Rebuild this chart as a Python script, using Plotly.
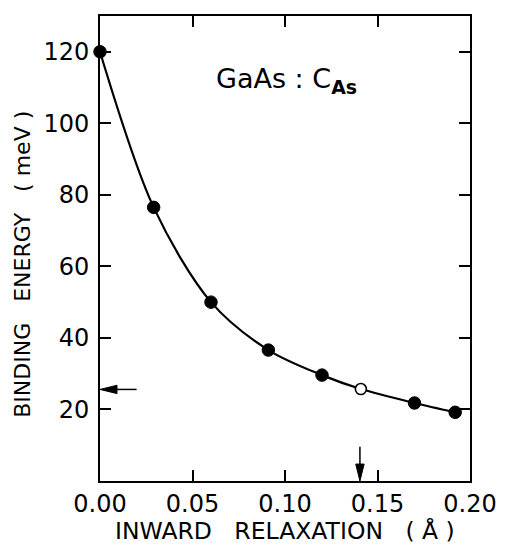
import plotly.graph_objects as go

# Data
relax_filled = [0.0, 0.029, 0.060, 0.091, 0.120, 0.170, 0.192]
energy_filled = [120.0, 76.5, 50.0, 36.6, 29.6, 21.8, 19.2]
relax_open = [0.141]
energy_open = [25.7]

# Curve passes through all points (sorted by x)
curve_x = [0.0, 0.029, 0.060, 0.091, 0.120, 0.141, 0.170, 0.192]
curve_y = [120.0, 76.5, 50.0, 36.6, 29.6, 25.7, 21.8, 19.2]

x_ticks = [0.0, 0.05, 0.10, 0.15, 0.20]
x_ticktext = ["0.00", "0.05", "0.10", "0.15", "0.20"]
y_ticks = [20, 40, 60, 80, 100, 120]

X_RANGE = [0, 0.2]
Y_RANGE = [0, 130]

# Arrow markers (tail -> tip)
h_arrow = dict(x0=0.0198, x1=0.0, y=25.6)
v_arrow = dict(x=0.1405, y0=9.6, y1=0.0)

FONT = "DejaVu Sans"

# Figure geometry (page body has an 8px default margin)
W, H = 503, 539
M = dict(l=92, r=41, t=6, b=66)
plot_w = W - M["l"] - M["r"]
plot_h = H - M["t"] - M["b"]
ux = (X_RANGE[1] - X_RANGE[0]) / plot_w   # data units per pixel
uy = (Y_RANGE[1] - Y_RANGE[0]) / plot_h
HEAD_LEN, HEAD_HALF = 17, 4.2

fig = go.Figure()
fig.add_trace(go.Scatter(x=curve_x, y=curve_y, mode="lines",
                         line=dict(color="black", width=2.2, shape="spline", smoothing=0.9),
                         showlegend=False, hoverinfo="skip", cliponaxis=False))
fig.add_trace(go.Scatter(x=relax_filled, y=energy_filled, mode="markers",
                         marker=dict(color="black", size=12.5, line=dict(color="black", width=1)),
                         showlegend=False, cliponaxis=False))
fig.add_trace(go.Scatter(x=relax_open, y=energy_open, mode="markers",
                         marker=dict(color="white", size=11, line=dict(color="black", width=1.6)),
                         showlegend=False, cliponaxis=False))

# Horizontal arrow (pointing left)
hx_base = h_arrow["x1"] + HEAD_LEN * ux
fig.add_trace(go.Scatter(x=[h_arrow["x0"], hx_base], y=[h_arrow["y"], h_arrow["y"]], mode="lines",
                         line=dict(color="black", width=1.5), showlegend=False, hoverinfo="skip",
                         cliponaxis=False))
fig.add_trace(go.Scatter(x=[h_arrow["x1"], hx_base, hx_base, h_arrow["x1"]],
                         y=[h_arrow["y"], h_arrow["y"] + HEAD_HALF * uy,
                            h_arrow["y"] - HEAD_HALF * uy, h_arrow["y"]],
                         mode="lines", fill="toself", fillcolor="black",
                         line=dict(color="black", width=1), showlegend=False, hoverinfo="skip",
                         cliponaxis=False))
# Vertical arrow (pointing down)
vy_base = v_arrow["y1"] + HEAD_LEN * uy
fig.add_trace(go.Scatter(x=[v_arrow["x"], v_arrow["x"]], y=[v_arrow["y0"], vy_base], mode="lines",
                         line=dict(color="black", width=1.5), showlegend=False, hoverinfo="skip",
                         cliponaxis=False))
fig.add_trace(go.Scatter(x=[v_arrow["x"], v_arrow["x"] - HEAD_HALF * ux,
                            v_arrow["x"] + HEAD_HALF * ux, v_arrow["x"]],
                         y=[v_arrow["y1"], vy_base, vy_base, v_arrow["y1"]],
                         mode="lines", fill="toself", fillcolor="black",
                         line=dict(color="black", width=1), showlegend=False, hoverinfo="skip",
                         cliponaxis=False))

fig.add_annotation(x=0.101, y=112, xref="x", yref="y", showarrow=False,
                   xanchor="center", yanchor="middle",
                   text="GaAs : C<sub><b>As</b></sub>",
                   font=dict(family=FONT, size=27, color="black"))

# Axis titles as annotations for precise placement
fig.add_annotation(x=-77 / plot_w, y=0.465, xref="paper", yref="paper", showarrow=False,
                   xanchor="center", yanchor="middle",
                   text="BINDING   ENERGY   ( meV )", textangle=-90,
                   font=dict(family=FONT, size=22, color="black"))
fig.add_annotation(x=0.5, y=-50 / plot_h, xref="paper", yref="paper", showarrow=False,
                   xanchor="center", yanchor="middle",
                   text="INWARD   RELAXATION   ( Å )",
                   font=dict(family=FONT, size=23.5, color="black"))

axis_common = dict(showgrid=False, zeroline=False, showline=True, linecolor="black",
                   linewidth=2, mirror="ticks", ticks="inside", ticklen=11, tickwidth=1.5,
                   tickcolor="black", tickfont=dict(family=FONT, size=24, color="black"))

fig.update_xaxes(range=X_RANGE, tickvals=x_ticks, ticktext=x_ticktext, **axis_common)
fig.update_yaxes(range=Y_RANGE, tickvals=y_ticks, ticklabelstandoff=4, **axis_common)

fig.update_layout(width=W, height=H, plot_bgcolor="white", paper_bgcolor="white",
                  margin=M)

fig.write_html("out.html")
